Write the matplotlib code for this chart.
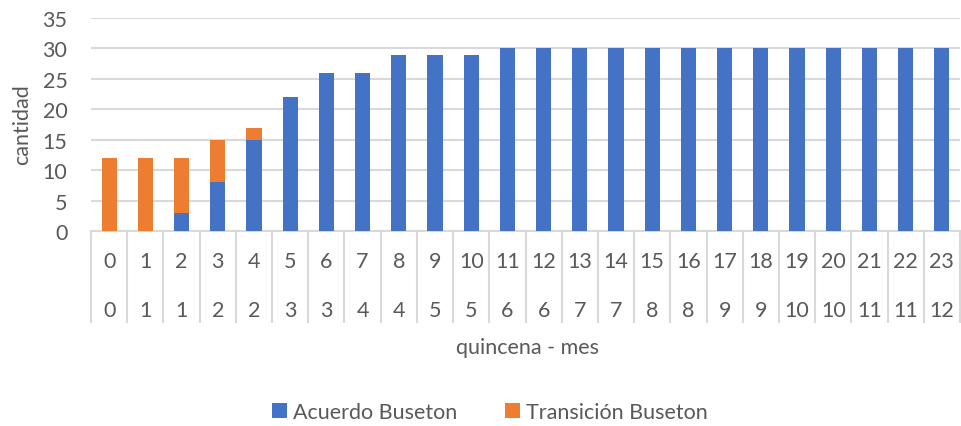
import matplotlib
matplotlib.use("Agg")
import matplotlib.pyplot as plt
import matplotlib.transforms as mtransforms
import numpy as np

quincena = [str(i) for i in range(24)]
mes = ["0", "1", "1", "2", "2", "3", "3", "4", "4", "5", "5", "6",
       "6", "7", "7", "8", "8", "9", "9", "10", "10", "11", "11", "12"]
acuerdo = [0, 0, 3, 8, 15, 22, 26, 26, 29, 29, 29, 30,
           30, 30, 30, 30, 30, 30, 30, 30, 30, 30, 30, 30]
transicion = [12, 12, 9, 7, 2, 0, 0, 0, 0, 0, 0, 0,
              0, 0, 0, 0, 0, 0, 0, 0, 0, 0, 0, 0]

plt.rcParams['font.family'] = ['Lato', 'DejaVu Sans']
txt = '#595959'
grid = '#d9d9d9'
fs = 15.5

fig = plt.figure(figsize=(9.61, 4.27), dpi=100)
W, H = 961, 427
ax = fig.add_axes([91 / W, (H - 232) / H, (960 - 91) / W, (232 - 19) / H])

x = np.arange(len(quincena))
b1 = ax.bar(x, acuerdo, width=0.42, color='#4472C4', label='Acuerdo Buseton', zorder=3)
b2 = ax.bar(x, transicion, width=0.42, bottom=acuerdo, color='#ED7D31',
            label='Transición Buseton', zorder=3)

ax.set_xlim(-0.5, len(x) - 0.5)
ax.set_ylim(0, 35)
ax.set_yticks(range(0, 36, 5))
ax.yaxis.grid(True, color=grid, linewidth=1.5, zorder=0)
ax.tick_params(axis='y', length=0, labelsize=fs, labelcolor=txt, pad=17)
ax.set_xticks([])
for s in ['top', 'right', 'left']:
    ax.spines[s].set_visible(False)
ax.spines['bottom'].set_color(grid)
ax.spines['bottom'].set_linewidth(1.5)

trans = mtransforms.blended_transform_factory(ax.transData, ax.transAxes)
axh = 232 - 19
for b in np.arange(-0.5, len(x) + 0.5, 1.0):
    ax.plot([b, b], [0, -(323 - 232) / axh], transform=trans, color=grid,
            linewidth=1.5, clip_on=False)
for i in x:
    ax.text(i, -(262 - 232) / axh, quincena[i], transform=trans, ha='center',
            va='center', fontsize=fs, color=txt)
    ax.text(i, -(311 - 232) / axh, mes[i], transform=trans, ha='center',
            va='center', fontsize=fs, color=txt)

fig.text(527 / W, 1 - 348 / H, 'quincena - mes', ha='center', va='center',
         fontsize=fs, color=txt)
fig.text(22 / W, 1 - 125 / H, 'cantidad', ha='center', va='center',
         rotation=90, fontsize=fs, color=txt)

leg = fig.legend(handles=[b1, b2], loc='center', bbox_to_anchor=(490 / W, 1 - 413 / H),
                 ncol=2, frameon=False, fontsize=fs, handlelength=0.7,
                 handleheight=0.7, handletextpad=0.3, columnspacing=2.2)
for t in leg.get_texts():
    t.set_color(txt)

fig.savefig('out.png', dpi=100)
